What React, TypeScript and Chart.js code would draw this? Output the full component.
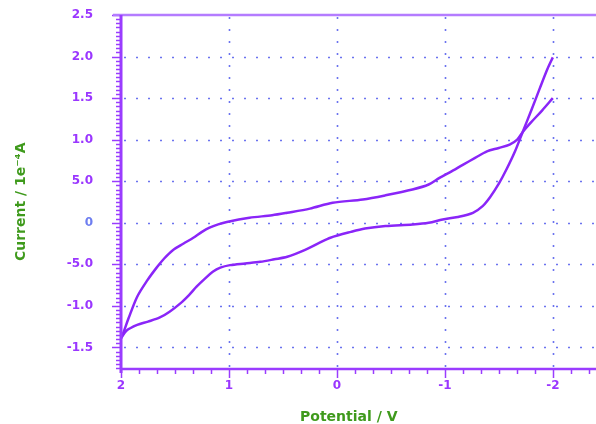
import React, { useEffect, useRef } from 'react';
import { Chart, registerables } from 'chart.js';

Chart.register(...registerables);

// Return (lower) branch, from +2 V towards -2 V
const lowerPotential = [2.0, 1.95, 1.85, 1.75, 1.64, 1.55, 1.45, 1.37, 1.30, 1.22, 1.15, 1.08, 0.99, 0.85, 0.71, 0.58, 0.46, 0.30, 0.16, 0.06, -0.13, -0.26, -0.45, -0.70, -0.85, -0.98, -1.12, -1.26, -1.35, -1.42, -1.50, -1.57, -1.65, -1.72, -1.80, -1.88, -1.95, -2.0];
const lowerCurrent = [-1.39, -1.30, -1.23, -1.19, -1.14, -1.07, -0.97, -0.87, -0.77, -0.67, -0.59, -0.54, -0.51, -0.49, -0.47, -0.44, -0.41, -0.33, -0.24, -0.18, -0.11, -0.07, -0.04, -0.02, 0.0, 0.04, 0.07, 0.12, 0.20, 0.31, 0.47, 0.64, 0.86, 1.09, 1.35, 1.62, 1.85, 1.99];

// Upper branch, from +2 V towards -2 V
const upperPotential = [2.0, 1.98, 1.93, 1.85, 1.76, 1.67, 1.60, 1.52, 1.42, 1.33, 1.25, 1.18, 1.10, 1.02, 0.81, 0.60, 0.46, 0.25, 0.04, -0.24, -0.45, -0.70, -0.85, -0.95, -1.05, -1.17, -1.28, -1.39, -1.50, -1.60, -1.67, -1.72, -1.80, -1.90, -2.0];
const upperCurrent = [-1.39, -1.33, -1.15, -0.89, -0.70, -0.54, -0.43, -0.33, -0.25, -0.18, -0.11, -0.06, -0.02, 0.01, 0.06, 0.09, 0.12, 0.17, 0.24, 0.28, 0.33, 0.40, 0.46, 0.54, 0.61, 0.70, 0.78, 0.86, 0.90, 0.94, 1.00, 1.09, 1.21, 1.35, 1.50];

const yTickValues = [2.5, 2.0, 1.5, 1.0, 0.5, 0, -0.5, -1.0, -1.5];
const yTickLabels = ['2.5', '2.0', '1.5', '1.0', '5.0', '0', '-5.0', '-1.0', '-1.5'];
const xTickValues = [2, 1, 0, -1, -2];
const xTickLabels = ['2', '1', '0', '-1', '-2'];

const LINE_COLOR = '#8a25f8';
const AXIS_COLOR = '#9a3cff';
const LABEL_COLOR = '#9a36ff';
const ZERO_COLOR = '#6e7ef0';
const TITLE_COLOR = '#3f9a1c';
const GRID_COLOR = 'rgba(70,80,235,0.8)';
const FONT = '"DejaVu Sans", Verdana, sans-serif';

const framePlugin = {
  id: 'frame',
  beforeDatasetsDraw(chart: any) {
    const { ctx, chartArea, scales } = chart;
    const { left, right, top, bottom } = chartArea;
    const x = scales.x;
    const y = scales.y;
    ctx.save();
    ctx.strokeStyle = GRID_COLOR;
    ctx.lineWidth = 1.6;
    ctx.setLineDash([2, 10]);
    yTickValues.forEach((v) => {
      if (v >= 2.5) return;
      const py = Math.round(y.getPixelForValue(v)) + 0.5;
      ctx.beginPath();
      ctx.moveTo(left + 3, py);
      ctx.lineTo(right, py);
      ctx.stroke();
    });
    xTickValues.forEach((v) => {
      if (v >= 2) return;
      const px = Math.round(x.getPixelForValue(v)) + 0.5;
      ctx.beginPath();
      ctx.moveTo(px, top + 2);
      ctx.lineTo(px, bottom);
      ctx.stroke();
    });
    ctx.restore();
  },
  afterDatasetsDraw(chart: any) {
    const { ctx, chartArea, scales } = chart;
    const { left, right, top, bottom } = chartArea;
    const x = scales.x;
    const y = scales.y;
    ctx.save();
    ctx.setLineDash([]);
    ctx.strokeStyle = AXIS_COLOR;
    ctx.lineWidth = 1.5;
    // y ticks every 0.05
    for (let k = -40; k <= 50; k++) {
      const v = k * 0.05;
      if (v < y.min - 1e-9 || v > y.max + 1e-9) continue;
      const py = Math.round(y.getPixelForValue(v)) + 0.5;
      const major = k % 10 === 0;
      ctx.beginPath();
      ctx.moveTo(left - (major ? 9 : 5), py);
      ctx.lineTo(left, py);
      ctx.stroke();
    }
    // x ticks every 1/6 V
    for (let k = -15; k <= 12; k++) {
      const v = k / 6;
      if (v < x.min - 1e-9 || v > x.max + 1e-9) continue;
      const px = Math.round(x.getPixelForValue(v)) + 0.5;
      const major = k % 6 === 0;
      ctx.beginPath();
      ctx.moveTo(px, bottom);
      ctx.lineTo(px, bottom + (major ? 9 : 5));
      ctx.stroke();
    }
    // top border
    ctx.strokeStyle = '#b47cff';
    ctx.lineWidth = 2.5;
    ctx.beginPath();
    ctx.moveTo(left - 8, top);
    ctx.lineTo(right, top);
    ctx.stroke();
    // bottom axis
    ctx.strokeStyle = AXIS_COLOR;
    ctx.lineWidth = 2.5;
    ctx.beginPath();
    ctx.moveTo(left, bottom);
    ctx.lineTo(right, bottom);
    ctx.stroke();
    // left axis
    ctx.lineWidth = 3;
    ctx.beginPath();
    ctx.moveTo(left, top);
    ctx.lineTo(left, bottom + 4);
    ctx.stroke();
    ctx.restore();
  },
};

export default function App() {
  const canvasRef = useRef<HTMLCanvasElement | null>(null);

  useEffect(() => {
    const canvas = canvasRef.current;
    if (!canvas) return;
    const lower = lowerPotential.map((p, i) => ({ x: p, y: lowerCurrent[i] }));
    const upper = upperPotential.map((p, i) => ({ x: p, y: upperCurrent[i] }));
    const chart = new Chart(canvas, {
      type: 'line',
      data: {
        datasets: [
          {
            data: lower,
            borderColor: LINE_COLOR,
            borderWidth: 2.5,
            pointRadius: 0,
            tension: 0.3,
            fill: false,
          },
          {
            data: upper,
            borderColor: LINE_COLOR,
            borderWidth: 2.5,
            pointRadius: 0,
            tension: 0.3,
            fill: false,
          },
        ],
      },
      options: {
        animation: false,
        responsive: false,
        layout: { padding: { top: 15, right: 0, left: 0, bottom: 0 } },
        plugins: {
          legend: { display: false },
          tooltip: { enabled: false },
        },
        scales: {
          x: {
            type: 'linear',
            reverse: true,
            min: -2.4,
            max: 2,
            afterBuildTicks: (s: any) => {
              s.ticks = xTickValues.map((v) => ({ value: v }));
            },
            afterFit: (s: any) => {
              s.height = 55;
              s.paddingLeft = 0;
              s.paddingRight = 0;
            },
            grid: { display: false, drawTicks: false },
            border: { display: false },
            ticks: {
              autoSkip: false,
              maxRotation: 0,
              padding: 10,
              color: LABEL_COLOR,
              font: { family: FONT, size: 12, weight: 'bold' },
              callback: (v: any) => {
                const i = xTickValues.indexOf(Number(v));
                return i >= 0 ? xTickLabels[i] : '';
              },
            },
            title: {
              display: true,
              text: 'Potential / V    ',
              color: TITLE_COLOR,
              font: { family: FONT, size: 14, weight: 'bold' },
              padding: { top: 0, bottom: -2 },
            },
          },
          y: {
            type: 'linear',
            min: -1.76,
            max: 2.5,
            afterBuildTicks: (s: any) => {
              s.ticks = yTickValues.map((v) => ({ value: v }));
            },
            afterFit: (s: any) => {
              s.width = 121;
              s.paddingTop = 0;
              s.paddingBottom = 0;
            },
            grid: { display: false, drawTicks: false },
            border: { display: false },
            ticks: {
              autoSkip: false,
              padding: 28,
              color: (c: any) => (c.tick && c.tick.value === 0 ? ZERO_COLOR : LABEL_COLOR),
              font: { family: FONT, size: 12, weight: 'bold' },
              callback: (v: any) => {
                const i = yTickValues.indexOf(Number(v));
                return i >= 0 ? yTickLabels[i] : '';
              },
            },
            title: {
              display: true,
              text: 'Current / 1e\u207B\u2074A    ',
              color: TITLE_COLOR,
              font: { family: FONT, size: 14, weight: 'bold' },
              padding: { top: 13, bottom: 0 },
            },
          },
        },
      },
      plugins: [framePlugin],
    } as any);
    return () => {
      chart.destroy();
    };
  }, []);

  return (
    <div style={{ position: 'absolute', left: 0, top: 0, width: 596, height: 424, background: '#fff' }}>
      <canvas ref={canvasRef} width={596} height={424} style={{ display: 'block' }} />
    </div>
  );
}
